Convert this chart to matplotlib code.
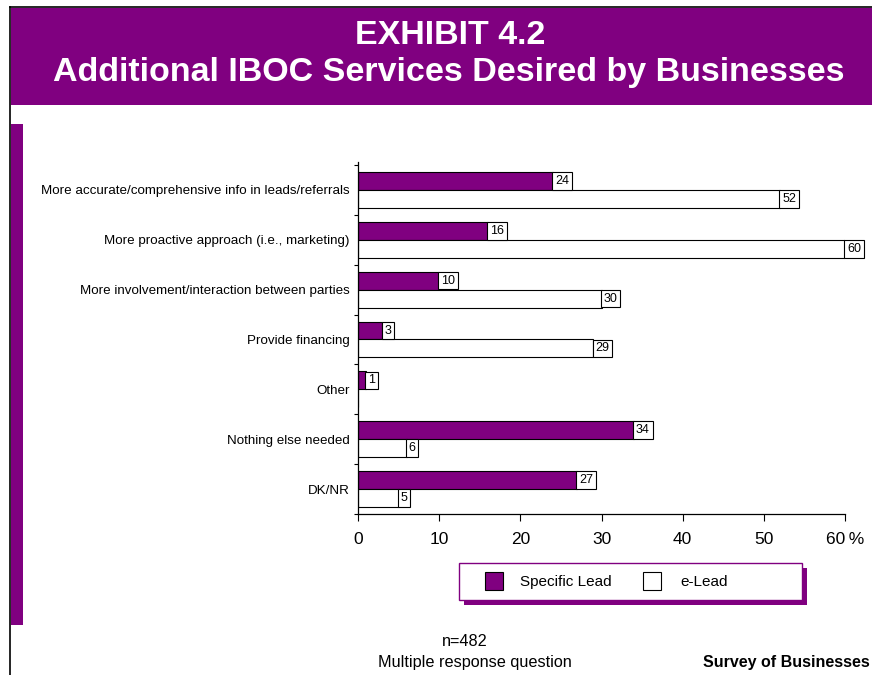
import matplotlib
matplotlib.use("Agg")
import matplotlib.pyplot as plt
from matplotlib.patches import Rectangle
import numpy as np

plt.rcParams['font.family'] = ['Liberation Sans', 'DejaVu Sans']

categories = ["More accurate/comprehensive info in leads/referrals",
              "More proactive approach (i.e., marketing)",
              "More involvement/interaction between parties",
              "Provide financing",
              "Other",
              "Nothing else needed",
              "DK/NR"]
specific_lead = [24, 16, 10, 3, 1, 34, 27]
e_lead = [52, 60, 30, 29, None, 6, 5]
xticks = [0, 10, 20, 30, 40, 50, 60]

purple = "#800080"
W, H = 872, 675

fig = plt.figure(figsize=(W / 100, H / 100), dpi=100)

def px(x, y):
    # pixel position (from top-left) to figure fraction
    return x / W, 1 - y / H

def rect(x0, y0, x1, y1, **kw):
    fx, fy = px(x0, y1)
    fig.patches.append(Rectangle((fx, fy), (x1 - x0) / W, (y1 - y0) / H,
                                 transform=fig.transFigure, **kw))

# frame lines and header band
fig.add_artist(plt.Line2D([10 / W, 10 / W], [0, 1 - 7 / H], color="black", lw=1.2, transform=fig.transFigure))
fig.add_artist(plt.Line2D([10 / W, 1], [1 - 7 / H, 1 - 7 / H], color="black", lw=1.2, transform=fig.transFigure))
rect(11, 8, W, 105, facecolor=purple, edgecolor="none")
rect(11, 124, 23, 625, facecolor=purple, edgecolor="none")

fig.text(*px(450, 36), "EXHIBIT 4.2", color="white", fontsize=24.5, fontweight="bold",
         ha="center", va="center")
fig.text(*px(449, 73), "Additional IBOC Services Desired by Businesses", color="white",
         fontsize=24.5, fontweight="bold", ha="center", va="center")

# main bar chart
l, b = px(358, 514)
r, t = px(845, 162)
ax = fig.add_axes([l, b, r - l, t - b])

y = np.arange(len(categories))
h = 0.36
ax.barh(y - h / 2, specific_lead, height=h, color=purple, edgecolor="black", lw=0.8)
e_vals = [v if v is not None else 0 for v in e_lead]
ax.barh(y + h / 2, e_vals, height=h, color="white", edgecolor="black", lw=0.8)

box = dict(boxstyle="square,pad=0.22", facecolor="white", edgecolor="black", lw=0.8)
for i, v in enumerate(specific_lead):
    ax.text(v + 0.25, i - h / 2, str(v), fontsize=9, ha="left", va="center", bbox=box)
for i, v in enumerate(e_lead):
    if v is not None:
        ax.text(v + 0.25, i + h / 2, str(v), fontsize=9, ha="left", va="center", bbox=box)

ax.set_xlim(0, 60)
ax.set_ylim(6.5, -0.56)
ax.set_xticks(xticks)
ax.set_xticklabels([str(v) for v in xticks[:-1]] + ["60\u2009%"], fontsize=12.5)
ax.set_yticks(np.arange(-0.5, 7, 1), minor=True)
ax.set_yticks(y)
ax.set_yticklabels(categories, fontsize=9.6)
ax.tick_params(axis="y", which="major", length=0, pad=6)
ax.tick_params(axis="y", which="minor", length=3, width=0.8)
ax.tick_params(axis="x", length=5, width=0.8, pad=8)
for s in ("top", "right"):
    ax.spines[s].set_visible(False)
for s in ("left", "bottom"):
    ax.spines[s].set_linewidth(0.9)

# legend box with shadow
rect(464, 568, 807, 605, facecolor=purple, edgecolor="none")
rect(459, 563, 802, 600, facecolor="white", edgecolor=purple, lw=1)
rect(485, 572, 503, 590, facecolor=purple, edgecolor="black", lw=0.8)
rect(643, 572, 661, 590, facecolor="white", edgecolor="black", lw=0.8)
fig.text(*px(520, 582), "Specific Lead", fontsize=11, va="center")
fig.text(*px(680, 582), "e-Lead", fontsize=11, va="center")

# footer
fig.text(*px(465, 641), "n=482", fontsize=11.7, ha="center", va="center")
fig.text(*px(475, 662), "Multiple response question", fontsize=11.7,
         ha="center", va="center")
fig.text(*px(870, 662), "Survey of Businesses", fontsize=11.5,
         fontweight="bold", ha="right", va="center")

fig.savefig("out.png", dpi=100)
